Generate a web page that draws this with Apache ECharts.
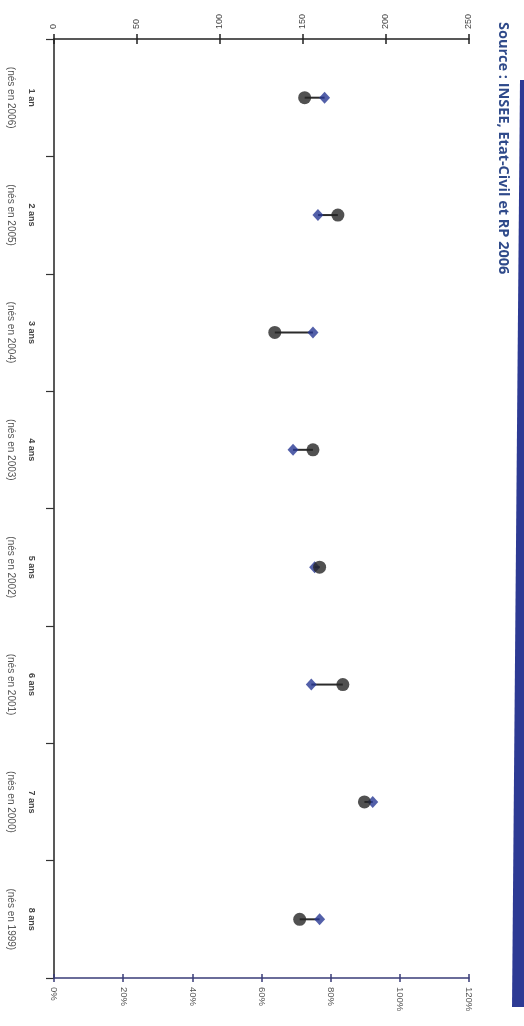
<!DOCTYPE html>
<html><head><meta charset="utf-8">
<script src="https://cdn.jsdelivr.net/npm/echarts@6/dist/echarts.min.js"></script>
<style>html,body{margin:0;padding:0;background:#fff}#c{width:524px;height:1026px}</style>
</head><body><div id="c"></div>
<script>
const ages = ['1 an', '2 ans', '3 ans', '4 ans', '5 ans', '6 ans', '7 ans', '8 ans'];
const birthYears = ['(nés en 2006)', '(nés en 2005)', '(nés en 2004)', '(nés en 2003)', '(nés en 2002)', '(nés en 2001)', '(nés en 2000)', '(nés en 1999)'];
const blackValues = [151, 171, 133, 156, 160, 174, 187, 148];
const blueValues = [163, 159, 156, 144, 157, 155, 192, 160];
const countTicks = [0, 50, 100, 150, 200, 250];
const percentTicks = [0, 0.2, 0.4, 0.6, 0.8, 1.0, 1.2];
const sourceText = 'Source : INSEE, Etat-Civil et RP 2006';

const categories = ages.map((a, i) => a + '\n' + birthYears[i]);
const chart = echarts.init(document.getElementById('c'));
const labelFont = 'Liberation Sans';

const countAxisBase = {
  type: 'value', min: countTicks[0], max: countTicks[countTicks.length - 1],
  interval: countTicks[1] - countTicks[0], splitLine: { show: false }
};
const pctAxisBase = {
  type: 'value', min: percentTicks[0], max: percentTicks[percentTicks.length - 1],
  interval: 0.2, splitLine: { show: false }
};

chart.setOption({
  animation: false,
  backgroundColor: '#fff',
  grid: { left: 49, right: 55, top: 39, bottom: 48, containLabel: false },
  yAxis: [{
    type: 'category', data: categories, inverse: true, position: 'left',
    axisLine: { lineStyle: { color: '#222', width: 1.5 } },
    axisTick: { show: true, length: 8, lineStyle: { color: '#333', width: 1.2 } },
    axisLabel: {
      rotate: -90, margin: 12, fontFamily: labelFont, fontSize: 10, color: '#555',
      lineHeight: 21,
      formatter: v => { const p = v.split('\n'); return '{a|' + p[0] + '}\n{b|' + p[1] + '}'; },
      rich: {
        a: { fontFamily: labelFont, fontSize: 9, color: '#444', fontWeight: 'bold', lineHeight: 21 },
        b: { fontFamily: labelFont, fontSize: 10, color: '#555', lineHeight: 21 }
      }
    },
    splitLine: { show: false }
  }],
  xAxis: [
    Object.assign({}, countAxisBase, {
      position: 'top',
      axisLine: { show: true, lineStyle: { color: '#222', width: 1.5 } },
      axisTick: { show: true, length: 5, lineStyle: { color: '#222', width: 1.5 } },
      axisLabel: { rotate: -90, margin: 10, fontFamily: labelFont, fontSize: 9, color: '#444',
        formatter: v => countTicks.indexOf(v) >= 0 ? String(v) : '' }
    }),
    Object.assign({}, pctAxisBase, {
      position: 'bottom',
      axisLine: { show: true, lineStyle: { color: '#3a3d78', width: 1.5 } },
      axisTick: { show: true, length: 4, lineStyle: { color: '#3a3d78', width: 1.5 } },
      axisLabel: { rotate: -90, margin: 9, fontFamily: labelFont, fontSize: 9.5, color: '#555',
        formatter: v => Math.round(v * 100) + '%' }
    }),
    Object.assign({}, countAxisBase, {
      position: 'top',
      axisLine: { show: false }, axisLabel: { show: false },
      axisTick: { show: true, inside: true, length: 5, lineStyle: { color: '#222', width: 1.5 } }
    }),
    Object.assign({}, pctAxisBase, {
      position: 'bottom',
      axisLine: { show: false }, axisLabel: { show: false },
      axisTick: { show: true, inside: true, length: 4, lineStyle: { color: '#3a3d78', width: 1.5 } }
    })
  ],
  series: [
    {
      type: 'custom', xAxisIndex: 0, yAxisIndex: 0, z: 1, silent: true,
      data: ages.map((a, i) => [blackValues[i], blueValues[i], i]),
      encode: { x: [0, 1], y: 2 },
      renderItem: (params, api) => {
        const p1 = api.coord([api.value(0), api.value(2)]);
        const p2 = api.coord([api.value(1), api.value(2)]);
        return { type: 'line', shape: { x1: p1[0], y1: p1[1], x2: p2[0], y2: p2[1] },
          style: { stroke: '#2b2b2b', lineWidth: 2 } };
      }
    },
    {
      type: 'scatter', xAxisIndex: 0, yAxisIndex: 0, z: 3,
      symbol: 'diamond', symbolSize: [11, 12],
      itemStyle: { color: '#283894' },
      data: blueValues.map((v, i) => [v, i])
    },
    {
      type: 'scatter', xAxisIndex: 0, yAxisIndex: 0, z: 4,
      symbol: 'circle', symbolSize: 13,
      itemStyle: { color: '#262626' },
      data: blackValues.map((v, i) => [v, i])
    }
  ],
  graphic: [
    {
      type: 'polygon', z: 10,
      shape: { points: [[520, 80], [524, 80], [524, 1007], [512, 1007]] },
      style: { fill: '#2d3a94' }
    },
    {
      type: 'text', z: 10, x: 503, y: 22, rotation: -Math.PI / 2,
      style: { text: sourceText, fill: '#2f4a8a', fontFamily: 'Open Sans', fontSize: 14.5,
        fontWeight: 'bold', align: 'left', verticalAlign: 'middle' }
    }
  ]
});
</script>
</body></html>
